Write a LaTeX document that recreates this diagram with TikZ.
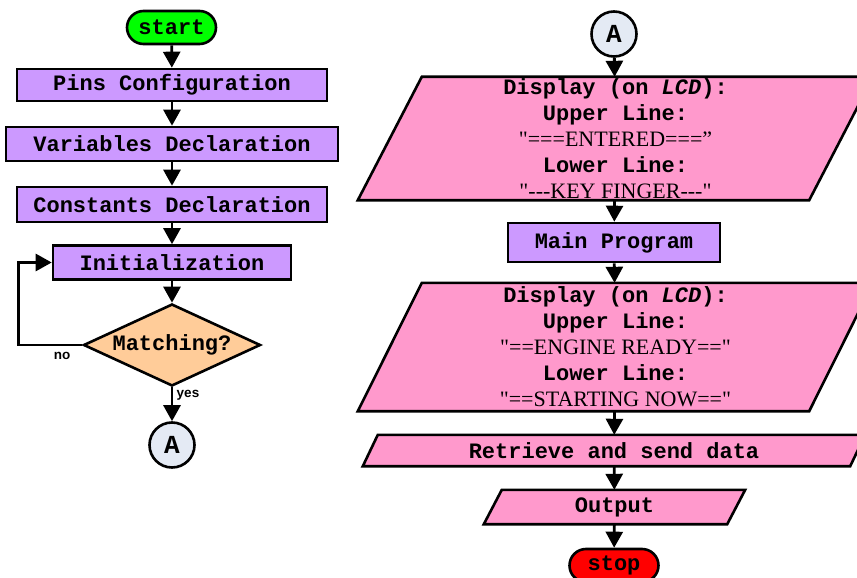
\documentclass[tikz,border=0pt]{standalone}
\usepackage{fontspec}
\usetikzlibrary{shapes.geometric,shapes.misc,arrows.meta,backgrounds}
\newfontfamily\monob{Liberation Mono}
\newfontfamily\tnr{Liberation Serif}
\newfontfamily\arialb{Liberation Sans}
\definecolor{procfill}{HTML}{CC99FF}
\definecolor{iofillc}{HTML}{FF99CC}
\definecolor{decfill}{HTML}{FFCC99}
\definecolor{termgreen}{HTML}{00FF00}
\definecolor{termred}{HTML}{FF0000}
\definecolor{connfill}{HTML}{E4EAF4}
\begin{document}
\begin{tikzpicture}[x=1pt,y=-1pt,
  font=\fontsize{22}{26}\selectfont\monob\bfseries,
  proc/.style={draw, line width=2.6pt, fill=procfill, inner sep=0pt},
  term/.style={rounded rectangle, draw, line width=2.6pt, minimum width=89pt, minimum height=33pt, inner sep=0pt},
  decision/.style={diamond, draw, line width=2.6pt, fill=decfill, aspect=2.16, inner sep=0pt, minimum width=177pt, minimum height=82pt},
  conn/.style={circle, draw, line width=2.6pt, fill=connfill, minimum size=45pt, inner sep=0pt,
    font=\fontsize{26}{28}\selectfont\monob\bfseries},
  io/.style={inner sep=0pt, align=center},
  iobox/.style={draw, line width=2.6pt, fill=iofillc, line join=miter},
  lbl/.style={font=\fontsize{13.5}{16}\selectfont\arialb\bfseries},
  arr/.style={line width=2.8pt, -{Triangle[width=17pt,length=16pt]}}]
\useasboundingbox (0,0) rectangle (857,578);

% left column
\node[term, fill=termgreen] (start) at (171.5,27.5) {start};
\node[proc, minimum width=310pt, minimum height=32pt] (pins) at (172,85) {Pins Configuration};
\node[proc, minimum width=332pt, minimum height=34pt] (vars) at (172,144) {Variables Declaration};
\node[proc, minimum width=310pt, minimum height=35pt] (consts) at (172,204.5) {Constants Declaration};
\node[proc, minimum width=238pt, minimum height=34pt] (init) at (172,262.5) {Initialization};
\node[decision] (match) at (172,345) {Matching?};
\node[conn] (a1) at (172,445) {A};
\node[lbl] (nolbl) at (62,356) {no};
\node[lbl] (yeslbl) at (188,395) {yes};

\draw[arr] (start) -- (pins);
\draw[arr] (pins) -- (vars);
\draw[arr] (vars) -- (consts);
\draw[arr] (consts) -- (init);
\draw[arr] (init) -- (match);
\draw[arr] (match) -- (a1);
\draw[arr] (match.west) -- ++(-64,0) |- (init.west);

% right column
\node[conn] (a2) at (614,34) {A};
\node[io, minimum width=451pt, minimum height=123pt] (disp1) at (615.5,138.5)
  {Display (on \textit{LCD}):\\ Upper Line:\\ {\tnr\mdseries "===ENTERED===”}\\ Lower Line:\\ {\tnr\mdseries "---KEY FINGER---"}};
\node[proc, minimum width=212pt, minimum height=39pt] (mainprog) at (614,242.5) {Main Program};
\node[io, minimum width=451pt, minimum height=128pt] (disp2) at (615.5,347)
  {Display (on \textit{LCD}):\\ Upper Line:\\ {\tnr\mdseries "==ENGINE READY=="}\\ Lower Line:\\ {\tnr\mdseries "==STARTING NOW=="}};
\node[io, minimum width=487pt, minimum height=31pt] (retr) at (614,450.5) {Retrieve and send data};
\node[io, minimum width=243pt, minimum height=34pt] (out) at (614.5,507) {Output};
\node[term, fill=termred] (stop) at (614,565.5) {stop};

% slanted input/output boxes behind their texts
\begin{scope}[on background layer]
\foreach \n/\s in {disp1/32,disp2/32,retr/7.5,out/9}{
  \draw[iobox] ([xshift=-\s pt]\n.south west) -- ([xshift=\s pt]\n.north west)
    -- ([xshift=\s pt]\n.north east) -- ([xshift=-\s pt]\n.south east) -- cycle;}
\end{scope}

\draw[arr] (a2) -- (disp1);
\draw[arr] (disp1) -- (mainprog);
\draw[arr] (mainprog) -- (disp2);
\draw[arr] (disp2) -- (retr);
\draw[arr] (retr) -- (out);
\draw[arr] (out) -- (stop);
\end{tikzpicture}
\end{document}
